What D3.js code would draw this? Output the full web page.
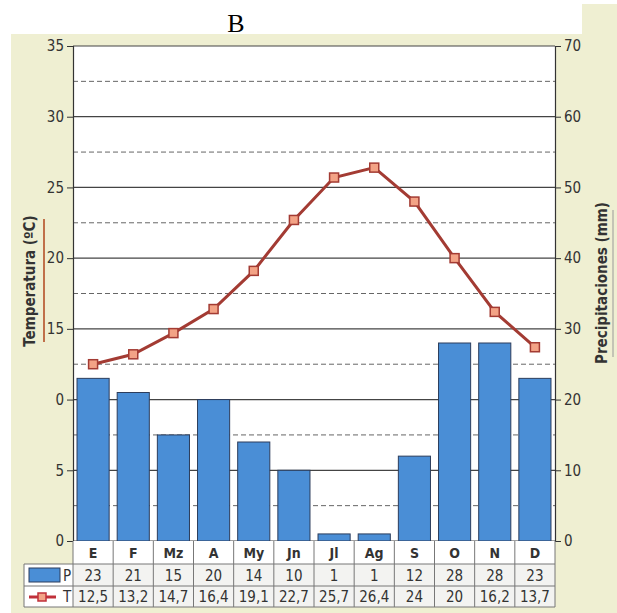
<!DOCTYPE html>
<html>
<head>
<meta charset="utf-8">
<script src="https://cdn.jsdelivr.net/npm/d3@7"></script>
<style>
  body { margin: 0; background: #fff; }
  svg { display: block; }
  text { font-family: "DejaVu Sans Condensed", "DejaVu Sans", sans-serif; fill: #333; }
</style>
</head>
<body>
<svg id="chart" width="617" height="613"></svg>
<script>
// data
const months = ["E", "F", "Mz", "A", "My", "Jn", "Jl", "Ag", "S", "O", "N", "D"];
const precip = [23, 21, 15, 20, 14, 10, 1, 1, 12, 28, 28, 23];
const temp = [12.5, 13.2, 14.7, 16.4, 19.1, 22.7, 25.7, 26.4, 24, 20, 16.2, 13.7];
const tempLabels = ["12,5", "13,2", "14,7", "16,4", "19,1", "22,7", "25,7", "26,4", "24", "20", "16,2", "13,7"];
const tempTicks = [0, 5, 10, 15, 20, 25, 30, 35];
const tempTickLabels = ["0", "5", "0", "15", "20", "25", "30", "35"];
const precipTicks = [0, 10, 20, 30, 40, 50, 60, 70];

const margin = {top: 46, right: 62, bottom: 72, left: 73};
const W = 617, H = 613;
const innerW = W - margin.left - margin.right;
const innerH = H - margin.top - margin.bottom;

const svg = d3.select("#chart");

// beige card
svg.append("rect").attr("x", 11).attr("y", 34).attr("width", W - 11).attr("height", H - 34).attr("fill", "#efefd2");
svg.append("rect").attr("x", 582).attr("y", 4).attr("width", 35).attr("height", 40).attr("fill", "#efefd2");

svg.append("text").attr("x", 236).attr("y", 32).attr("text-anchor", "middle")
  .style("font-family", "'Liberation Serif', 'Times New Roman', serif").style("font-size", "26px").style("fill", "#000")
  .text("B");

const g = svg.append("g").attr("transform", `translate(${margin.left},${margin.top})`);

const x = d3.scaleBand().domain(months).range([0, innerW]).paddingInner(0.2).paddingOuter(0.1);
const yT = d3.scaleLinear().domain([0, 35]).range([innerH, 0]);
const yP = d3.scaleLinear().domain([0, 70]).range([innerH, 0]);

g.append("rect").attr("width", innerW).attr("height", innerH).attr("fill", "#fff");

// grid: solid every 5 ºC, dashed halfway
g.selectAll(".grid").data(tempTicks).join("line")
  .attr("x1", 0).attr("x2", innerW)
  .attr("y1", d => yT(d)).attr("y2", d => yT(d))
  .attr("stroke", "#444").attr("stroke-width", 1.2);
g.selectAll(".half").data(tempTicks.slice(0, -1).map(d => d + 2.5)).join("line")
  .attr("x1", 0).attr("x2", innerW)
  .attr("y1", d => yT(d)).attr("y2", d => yT(d))
  .attr("stroke", "#666").attr("stroke-width", 1).attr("stroke-dasharray", "5,3");

// bars
g.selectAll(".bar").data(precip).join("rect")
  .attr("x", (d, i) => x(months[i]))
  .attr("y", d => yP(d))
  .attr("width", x.bandwidth())
  .attr("height", d => innerH - yP(d))
  .attr("fill", "#4a8ed6").attr("stroke", "#2c3d5c").attr("stroke-width", 1);

// axes
const axL = g.append("g").call(d3.axisLeft(yT).tickValues(tempTicks).tickSize(6).tickPadding(3)
  .tickFormat((d, i) => tempTickLabels[i]));
const axR = g.append("g").attr("transform", `translate(${innerW},0)`)
  .call(d3.axisRight(yP).tickValues(precipTicks).tickSize(6).tickPadding(3));
[axL, axR].forEach(a => {
  a.select(".domain").attr("stroke", "#333").attr("stroke-width", 1.2);
  a.selectAll(".tick line").attr("stroke", "#333");
  a.selectAll("text").style("font-size", "15px").attr("fill", "#333");
});

// temperature line
const line = d3.line().x((d, i) => x(months[i]) + x.bandwidth() / 2).y(d => yT(d));
g.append("path").datum(temp).attr("d", line)
  .attr("fill", "none").attr("stroke", "#a33b33").attr("stroke-width", 3);
g.selectAll(".mk").data(temp).join("rect")
  .attr("x", (d, i) => x(months[i]) + x.bandwidth() / 2 - 4.5)
  .attr("y", d => yT(d) - 4.5)
  .attr("width", 9).attr("height", 9)
  .attr("fill", "#f3a386").attr("stroke", "#a33b33").attr("stroke-width", 1.5);

// axis titles
svg.append("text").attr("transform", "translate(35,281) rotate(-90)").attr("text-anchor", "middle")
  .style("font-size", "15px").style("font-weight", "bold").attr("fill", "#333").text("Temperatura (ºC)");
svg.append("line").attr("x1", 44).attr("x2", 44).attr("y1", 219).attr("y2", 342)
  .attr("stroke", "#c0704a").attr("stroke-width", 2);
svg.append("text").attr("transform", "translate(607,283) rotate(-90)").attr("text-anchor", "middle")
  .style("font-size", "15px").style("font-weight", "bold").attr("fill", "#333").text("Precipitaciones (mm)");
svg.append("line").attr("x1", 613).attr("x2", 613).attr("y1", 210).attr("y2", 357)
  .attr("stroke", "#999").attr("stroke-width", 1);

// data table
const step = x.step();
const rowY = [innerH, innerH + 23, innerH + 45, innerH + 66];
const t = g.append("g");
t.append("rect").attr("x", 0).attr("y", rowY[0]).attr("width", innerW).attr("height", rowY[1] - rowY[0]).attr("fill", "#fff");
t.append("rect").attr("x", -49).attr("y", rowY[1]).attr("width", innerW + 49).attr("height", rowY[3] - rowY[1]).attr("fill", "#f3f3f1");
t.append("rect").attr("x", -49).attr("y", rowY[1]).attr("width", 49).attr("height", rowY[3] - rowY[1]).attr("fill", "#fff");

t.selectAll(".vl").data(d3.range(13)).join("line")
  .attr("x1", d => d * step).attr("x2", d => d * step)
  .attr("y1", rowY[0]).attr("y2", rowY[3]).attr("stroke", "#777");
t.selectAll(".hl").data(rowY.slice(1)).join("line")
  .attr("x1", -49).attr("x2", innerW).attr("y1", d => d).attr("y2", d => d).attr("stroke", "#777");
t.append("line").attr("x1", -49).attr("x2", -49).attr("y1", rowY[1]).attr("y2", rowY[3]).attr("stroke", "#777");

t.selectAll(".mlab").data(months).join("text")
  .attr("x", (d, i) => (i + 0.5) * step).attr("y", rowY[0] + 17)
  .attr("text-anchor", "middle").style("font-size", "14px").style("font-weight", "bold").attr("fill", "#222")
  .text(d => d);
t.selectAll(".plab").data(precip).join("text")
  .attr("x", (d, i) => (i + 0.5) * step).attr("y", rowY[1] + 17)
  .attr("text-anchor", "middle").style("font-size", "15px").attr("fill", "#333")
  .text(d => d);
t.selectAll(".tlab").data(tempLabels).join("text")
  .attr("x", (d, i) => (i + 0.5) * step).attr("y", rowY[2] + 16)
  .attr("text-anchor", "middle").style("font-size", "15px").attr("fill", "#333")
  .text(d => d);

// legend keys
t.append("rect").attr("x", -44).attr("y", rowY[1] + 4).attr("width", 31).attr("height", 14)
  .attr("fill", "#4a8ed6").attr("stroke", "#2c3d5c");
t.append("text").attr("x", -10).attr("y", rowY[1] + 17).style("font-size", "15px").attr("fill", "#333").text("P");
t.append("line").attr("x1", -44).attr("x2", -17).attr("y1", rowY[2] + 11).attr("y2", rowY[2] + 11)
  .attr("stroke", "#c0303a").attr("stroke-width", 3);
t.append("rect").attr("x", -35).attr("y", rowY[2] + 7).attr("width", 8).attr("height", 8)
  .attr("fill", "#f3a386").attr("stroke", "#c0303a").attr("stroke-width", 1.5);
t.append("text").attr("x", -10).attr("y", rowY[2] + 16).style("font-size", "15px").attr("fill", "#333").text("T");
</script>
</body>
</html>
